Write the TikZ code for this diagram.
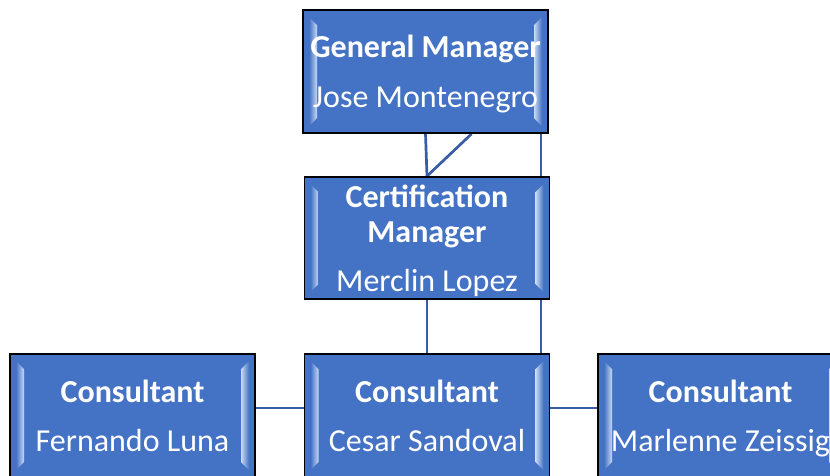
\documentclass[tikz,border=0pt]{standalone}
\usepackage{fontspec}
\setmainfont{Carlito}
\usetikzlibrary{calc, backgrounds}

\definecolor{boxblue}{RGB}{68,114,196}
\definecolor{bevellight}{RGB}{200,218,245}
\definecolor{linkblue}{RGB}{56,92,165}

% name line: no descender depth, so every box centres alike
\newcommand{\staffname}[1]{\smash{#1}}

\tikzset{
  orgbox/.style={draw=black, line width=1.8pt, fill=boxblue, text=white,
    minimum width=245pt, minimum height=123pt, inner sep=0pt, align=center,
    font=\fontsize{32}{35}\selectfont,
    path picture={
      \path (path picture bounding box.north west) coordinate (bnw)
            (path picture bounding box.south east) coordinate (bse);
      \shade[left color=boxblue, right color=bevellight]
        ($(bnw)+(6,7)$) -- ($(bnw)+(14,15)$) -- ($(bnw |- bse)+(14,-15)$) -- ($(bnw |- bse)+(6,-7)$) -- cycle;
      \shade[left color=bevellight, right color=boxblue]
        ($(bse |- bnw)+(-14,15)$) -- ($(bse |- bnw)+(-6,7)$) -- ($(bse)+(-6,-7)$) -- ($(bse)+(-14,-15)$) -- cycle;
    }},
  link/.style={draw=linkblue, line width=2.7pt}
}

\begin{document}
\begin{tikzpicture}[x=1pt, y=-1pt]
\clip (0,0) rectangle (830,475);

\node[orgbox] (gm) at (425.5,71.5) {\textbf{General Manager}\\[15pt]\staffname{Jose Montenegro}};
\node[orgbox, minimum height=122pt] (cm) at (427,238) {\textbf{Certification}\\\textbf{Manager}\\[14pt]\staffname{Merclin Lopez}};

\node[orgbox] (c1) at (132.5,415.5) {\textbf{Consultant}\\[14pt]\staffname{Fernando Luna}};
\node[orgbox] (c2) at (427,415.5) {\textbf{Consultant}\\[14pt]\staffname{Cesar Sandoval}};
\node[orgbox] (c3) at (720.5,415.5) {\textbf{Consultant}\\[14pt]\staffname{Marlenne Zeissig}};

% connectors behind the boxes
\begin{scope}[on background layer]
\draw[link] (gm.south) -- (cm.north);
\draw[link] ($(gm.south)+(46,0)$) -- (cm.north);
\coordinate (gmr) at ($(gm.south east)+(-8,0)$);
\draw[link] (gmr) -- (gmr |- c2.north);
\draw[link] (cm.south) -- (c2.north);
\draw[link] ($(c1.east)+(0,-7.5)$) -- ($(c2.west)+(0,-7.5)$);
\draw[link] ($(c2.east)+(0,-7.5)$) -- ($(c3.west)+(0,-7.5)$);
\end{scope}

\end{tikzpicture}
\end{document}
